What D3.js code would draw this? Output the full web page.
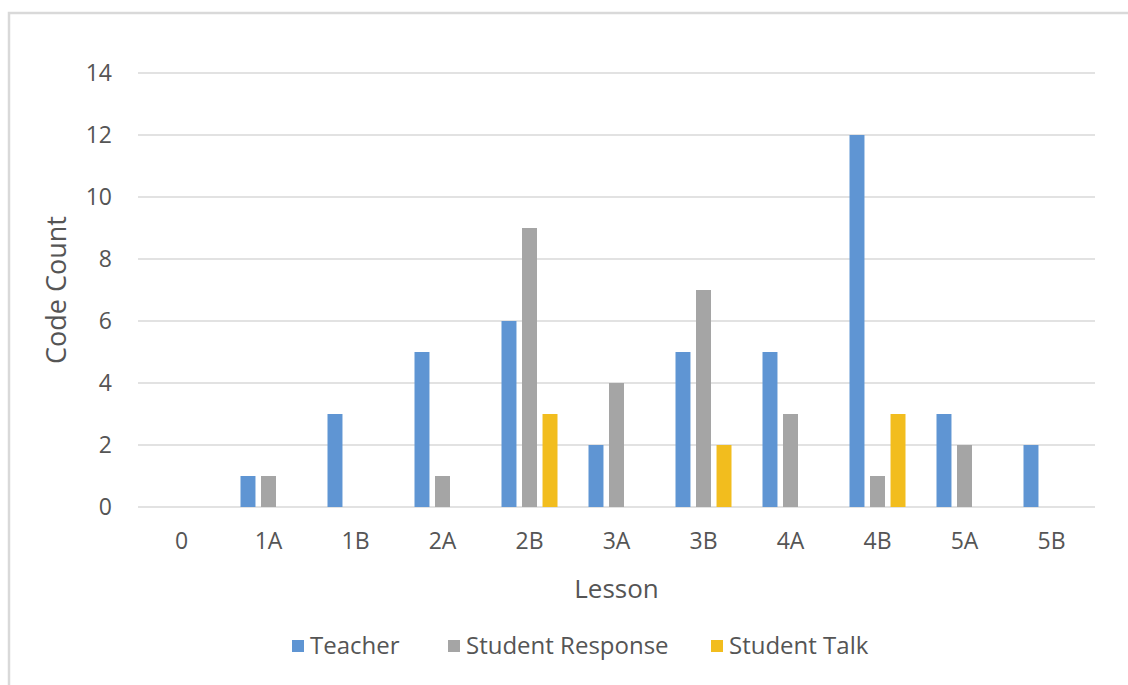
<!DOCTYPE html>
<html>
<head>
<meta charset="utf-8">
<script src="https://cdn.jsdelivr.net/npm/d3@7"></script>
<style>
  body { margin: 0; background: #fff; }
  text { font-family: "Open Sans", "Noto Sans", sans-serif; fill: #555; }
</style>
</head>
<body>
<div id="viz"></div>
<script>
// data
let lessons = ['0', '1A', '1B', '2A', '2B', '3A', '3B', '4A', '4B', '5A', '5B'];
let teacher = [0, 1, 3, 5, 6, 2, 5, 5, 12, 3, 2];
let studentResponse = [0, 1, 0, 1, 9, 4, 7, 3, 1, 2, 0];
let studentTalk = [0, 0, 0, 0, 3, 0, 2, 0, 3, 0, 0];
let seriesNames = ['Teacher', 'Student Response', 'Student Talk'];
let yTicks = [0, 2, 4, 6, 8, 10, 12, 14];

let colors = ['#5f95d3', '#a5a5a5', '#f2bd1e'];

let W = 1128, H = 685;
let margin = {top: 73, right: 33, bottom: 178, left: 138},
    width = W - margin.left - margin.right,
    height = H - margin.top - margin.bottom;

let svg = d3.select('#viz').append('svg')
    .attr('width', W)
    .attr('height', H);

// chart frame (runs off the right and bottom edges)
svg.append('rect')
    .attr('x', 9).attr('y', 13)
    .attr('width', W + 20).attr('height', H + 20)
    .attr('fill', 'none')
    .attr('stroke', '#d9d9d9')
    .attr('stroke-width', 2.5);

let g = svg.append('g')
    .attr('transform', `translate(${margin.left},${margin.top})`);

let x = d3.scaleBand().domain(lessons).range([0, width]).padding(0);
let y = d3.scaleLinear().domain([0, 14]).range([height, 0]);
let x1 = d3.scaleBand().domain(seriesNames).range([0, 56]).paddingInner(0.27);

// gridlines
g.append('g')
    .selectAll('line')
    .data(yTicks)
    .join('line')
    .attr('x1', 0).attr('x2', width)
    .attr('y1', d => y(d)).attr('y2', d => y(d))
    .attr('stroke', '#d9d9d9')
    .attr('stroke-width', 1.5);

// y axis labels
let yAxis = g.append('g')
    .call(d3.axisLeft(y).tickValues(yTicks).tickSize(0).tickPadding(26));
yAxis.select('.domain').remove();
yAxis.selectAll('text').style('font-size', '23px').attr('fill', '#555');

// x axis labels
let xAxis = g.append('g')
    .attr('transform', `translate(0,${height})`)
    .call(d3.axisBottom(x).tickSize(0).tickPadding(26));
xAxis.select('.domain').remove();
xAxis.selectAll('text').style('font-size', '23px').attr('fill', '#555');

// bars
let rows = lessons.map((l, i) => ({lesson: l, values: [teacher[i], studentResponse[i], studentTalk[i]]}));

let groups = g.selectAll('.bar-group')
    .data(rows)
    .join('g')
    .attr('class', 'bar-group')
    .attr('transform', d => `translate(${x(d.lesson) + x.bandwidth() / 2 - 28},0)`);

groups.selectAll('rect')
    .data(d => d.values.map((v, i) => ({name: seriesNames[i], value: v, i: i})))
    .join('rect')
    .attr('x', d => x1(d.name))
    .attr('y', d => y(d.value))
    .attr('width', x1.bandwidth())
    .attr('height', d => height - y(d.value))
    .attr('fill', d => colors[d.i]);

// axis titles
svg.append('text')
    .attr('transform', `translate(66,${margin.top + height / 2}) rotate(-90)`)
    .attr('text-anchor', 'middle')
    .style('font-size', '27px')
    .text('Code Count');

svg.append('text')
    .attr('x', margin.left + width / 2)
    .attr('y', 598)
    .attr('text-anchor', 'middle')
    .style('font-size', '26px')
    .text('Lesson');

// legend
let legendX = [292, 448, 711];
let legend = svg.selectAll('.legend')
    .data(seriesNames)
    .join('g')
    .attr('class', 'legend')
    .attr('transform', (d, i) => `translate(${legendX[i]},646)`);

legend.append('rect')
    .attr('x', 0).attr('y', -6)
    .attr('width', 12).attr('height', 12)
    .attr('fill', (d, i) => colors[i]);

legend.append('text')
    .attr('x', 18)
    .attr('dy', '0.35em')
    .style('font-size', '24px')
    .text(d => d);
</script>
</body>
</html>
